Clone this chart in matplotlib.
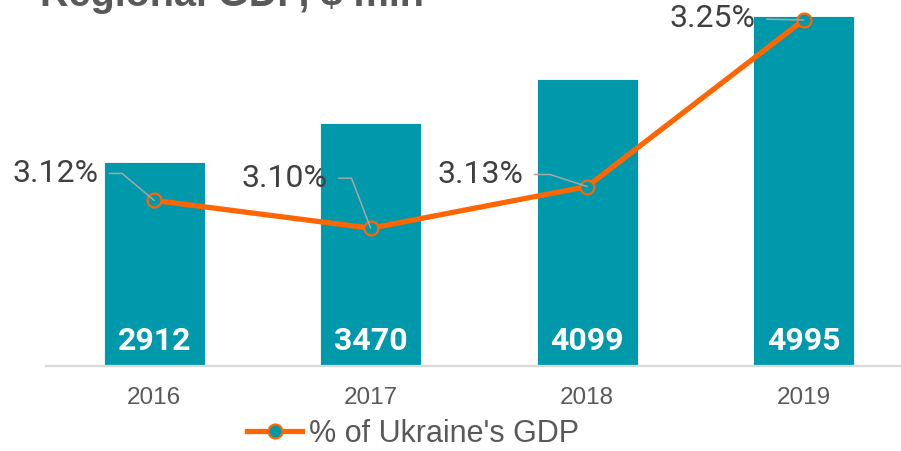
import matplotlib
matplotlib.use("Agg")
import matplotlib.pyplot as plt
from matplotlib.lines import Line2D

years = ["2016", "2017", "2018", "2019"]
gdp = [2912, 3470, 4099, 4995]
share = [3.12, 3.10, 3.13, 3.25]
share_labels = ["3.12%", "3.10%", "3.13%", "3.25%"]

teal = "#0099AB"
orange = "#FF6600"
grey = "#595959"

fig = plt.figure(figsize=(9.01, 4.51), dpi=100)
ax = fig.add_axes([46 / 901, 85 / 451, 855 / 901, 366 / 451])
x = list(range(len(years)))

ax.bar(x, gdp, width=0.467, color=teal, edgecolor="white", linewidth=0.6, zorder=2)
for xi, v in zip(x, gdp):
    ax.text(xi, 350, str(v), ha="center", va="center", color="white",
            fontsize=23, fontweight="bold", family="Roboto", zorder=3)

ax.set_xlim(-0.5, 3.45)
ax.set_ylim(0, 5222)
ax.set_xticks(x)
ax.set_xticklabels(years, family="Liberation Sans", fontsize=17.5, color=grey)
ax.tick_params(axis="x", length=0, pad=15)
ax.set_yticks([])
for s in ["top", "left", "right"]:
    ax.spines[s].set_visible(False)
ax.spines["bottom"].set_color("#D9D9D9")
ax.spines["bottom"].set_linewidth(1.6)

ax2 = ax.twinx()
ax2.set_ylim(3.0007, 3.2644)
ax2.plot(x, share, color=orange, lw=3.8, marker="o", markersize=10,
         markerfacecolor=teal, markeredgecolor=orange, markeredgewidth=1.6,
         solid_capstyle="round", zorder=4)
ax2.set_yticks([])
for s in ["top", "left", "right", "bottom"]:
    ax2.spines[s].set_visible(False)

# label offsets (pixels) and leader angles
offsets = [(-56, 27), (-43, 50), (-64, 12), (-48, 1)]
angles = [140, 111, 162, None]
for xi, v, lab, off, ang in zip(x, share, share_labels, offsets, angles):
    if ang is None:
        conn = "arc3,rad=0"
    else:
        conn = "angle,angleA=0,angleB=%d,rad=0" % ang
    ax2.annotate(lab, xy=(xi, v), xytext=off, textcoords="offset pixels",
                 ha="right", va="center", fontsize=23, family="Roboto",
                 color="#404040", zorder=5,
                 arrowprops=dict(arrowstyle="-", color="#A6A6A6", lw=1.1,
                                 connectionstyle=conn, relpos=(1, 0.5),
                                 shrinkA=6, shrinkB=0))

handle = Line2D([], [], color=orange, lw=3.8, marker="o", markersize=10,
                markerfacecolor=teal, markeredgecolor=orange, markeredgewidth=1.6)
fig.legend([handle], ["% of Ukraine's GDP"], loc="center",
           bbox_to_anchor=(413 / 901, 17 / 451), frameon=False,
           prop={"family": "Liberation Sans", "size": 22}, labelcolor=grey,
           handlelength=1.8, handletextpad=0.2, borderaxespad=0, borderpad=0)

fig.text(40 / 901, 1 - 6 / 451, "Regional GDP, $ mln", fontsize=28.5,
         fontweight="bold", family="Liberation Sans", color=grey, va="baseline")

fig.savefig("out.png", dpi=100)
